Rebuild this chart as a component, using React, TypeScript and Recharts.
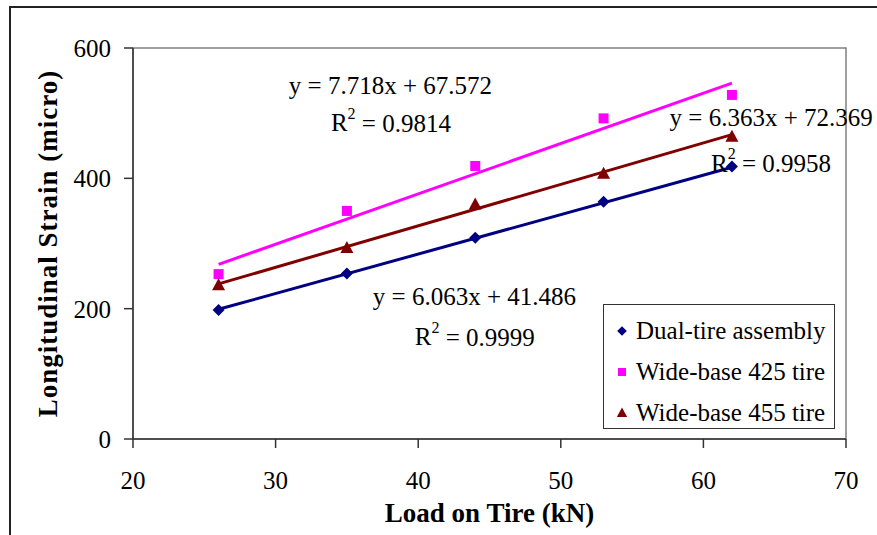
import React from "react";
import {
  ComposedChart,
  Scatter,
  XAxis,
  YAxis,
  Legend,
  ReferenceDot,
  ReferenceArea,
} from "recharts";

// measured loads (kN)
const loads = [26, 35, 44, 53, 62];

// longitudinal strain readings (micro)
const dualTire = [198, 254, 309, 364, 418];
const wide425 = [253, 350, 419, 492, 528];
const wide455 = [236, 293, 360, 407, 464];

// trendline end points at 26 and 62 kN
const trendLoads = [26, 62];
const dualTrend = [199, 417];
const wide425Trend = [268, 546];
const wide455Trend = [238, 467];

const xTicks = [20, 30, 40, 50, 60, 70];
const yTicks = [0, 200, 400, 600];

const FONT = "Liberation Serif";

const toPoints = (xs: number[], ys: number[]) => xs.map((x, i) => ({ x, y: ys[i] }));

type ShapeProps = { cx?: number; cy?: number; fill?: string };

const Diamond = ({ cx = 0, cy = 0, fill }: ShapeProps) => (
  <path d={`M${cx},${cy - 6}L${cx + 6},${cy}L${cx},${cy + 6}L${cx - 6},${cy}Z`} fill={fill} />
);
const Square = ({ cx = 0, cy = 0, fill }: ShapeProps) => (
  <rect x={cx - 5} y={cy - 5} width={10} height={10} fill={fill} />
);
const Triangle = ({ cx = 0, cy = 0, fill }: ShapeProps) => (
  <path d={`M${cx},${cy - 7}L${cx + 6.5},${cy + 5}L${cx - 6.5},${cy + 5}Z`} fill={fill} />
);

const series = [
  { name: "Dual-tire assembly", color: "#000080", values: dualTire, trend: dualTrend, Shape: Diamond },
  { name: "Wide-base 425 tire", color: "#FF00FF", values: wide425, trend: wide425Trend, Shape: Square },
  { name: "Wide-base 455 tire", color: "#800000", values: wide455, trend: wide455Trend, Shape: Triangle },
];

// trendline equations, anchored (left edge, middle) in data units
const annotations = [
  { x: 30.93, y: 543, text: "y = 7.718x + 67.572" },
  { x: 33.88, y: 485, r2: "0.9814" },
  { x: 57.63, y: 493, text: "y = 6.363x + 72.369" },
  { x: 60.53, y: 423, r2: "0.9958" },
  { x: 36.82, y: 218, text: "y = 6.063x + 41.486" },
  { x: 39.76, y: 157, r2: "0.9999" },
];

const renderAnnotation = (a: (typeof annotations)[number]) => (props: any) => {
  const vb = props.viewBox || {};
  const x = (vb.x ?? 0) + (vb.width ?? 0) / 2;
  const y = (vb.y ?? 0) + (vb.height ?? 0) / 2;
  return (
    <text x={x} y={y} dominantBaseline="central" style={{ fontFamily: FONT }} fontSize={25} fill="#000">
      {a.r2 ? (
        <>
          R<tspan dy={-10} fontSize={16}>2</tspan>
          <tspan dy={10}>{` = ${a.r2}`}</tspan>
        </>
      ) : (
        a.text
      )}
    </text>
  );
};

const LegendBox = () => (
  <div
    style={{
      width: 232,
      height: 125,
      boxSizing: "border-box",
      border: "1px solid #333",
      background: "#fff",
      fontFamily: FONT,
      fontSize: 25,
      color: "#000",
      paddingTop: 5,
    }}
  >
    {series.map(({ name, color, Shape }) => (
      <div key={name} style={{ display: "flex", alignItems: "center", height: 41, whiteSpace: "nowrap" }}>
        <svg width={32} height={20} style={{ flex: "none" }}>
          <g transform="translate(18,10) scale(0.8) translate(-18,-10)">
            <Shape cx={18} cy={10} fill={color} />
          </g>
        </svg>
        <span>{name}</span>
      </div>
    ))}
  </div>
);

export default function App() {
  return (
    <div
      style={{
        position: "absolute",
        left: 0,
        top: 0,
        width: 877,
        height: 535,
        overflow: "hidden",
        background: "#fff",
        fontFamily: FONT,
      }}
    >
      <div
        style={{
          position: "absolute",
          left: 9,
          top: 6,
          width: 900,
          height: 600,
          borderLeft: "2px solid #222",
          borderTop: "2px solid #222",
        }}
      />
      <div style={{ position: "absolute", left: 0, top: 0 }}>
        <ComposedChart
          width={877}
          height={535}
          margin={{ top: 48, right: 31, bottom: 0, left: 0 }}
          style={{ fontFamily: FONT }}
        >
          <XAxis
            type="number"
            dataKey="x"
            domain={[20, 70]}
            ticks={xTicks}
            allowDataOverflow
            height={96}
            tickSize={9}
            tickMargin={23}
            stroke="#333"
            strokeWidth={1.5}
            tick={{ fontSize: 25, fontFamily: FONT, fill: "#000" }}
            label={{
              content: (p: any) => {
                const vb = p.viewBox || {};
                return (
                  <text
                    x={vb.x + vb.width / 2}
                    y={vb.y + 83}
                    textAnchor="middle"
                    style={{ fontFamily: FONT }}
                    fontSize={27}
                    fontWeight="bold"
                    fill="#000"
                  >
                    Load on Tire (kN)
                  </text>
                );
              },
            }}
          />
          <YAxis
            type="number"
            dataKey="y"
            domain={[0, 600]}
            ticks={yTicks}
            width={133}
            tickSize={9}
            tickMargin={13}
            stroke="#333"
            strokeWidth={1.5}
            tick={{ fontSize: 25, fontFamily: FONT, fill: "#000" }}
            label={{
              content: (p: any) => {
                const vb = p.viewBox || {};
                const cx = 48;
                const cy = vb.y + vb.height / 2;
                return (
                  <text
                    x={cx}
                    y={cy}
                    transform={`rotate(-90 ${cx} ${cy})`}
                    textAnchor="middle"
                    dominantBaseline="central"
                    style={{ fontFamily: FONT }}
                    fontSize={27}
                    fontWeight="bold"
                    fill="#000"
                    letterSpacing={1}
                  >
                    Longitudinal Strain (micro)
                  </text>
                );
              },
            }}
          />
          <ReferenceArea x1={20} x2={70} y1={0} y2={600} fill="none" stroke="#808080" strokeWidth={1.5} />
          {series.map((s) => (
            <Scatter
              key={`${s.name}-trend`}
              data={toPoints(trendLoads, s.trend)}
              line={{ stroke: s.color, strokeWidth: 3 }}
              shape={() => <g />}
              legendType="none"
              isAnimationActive={false}
            />
          ))}
          {series.map((s) => (
            <Scatter
              key={s.name}
              name={s.name}
              data={toPoints(loads, s.values)}
              fill={s.color}
              shape={(p: any) => <s.Shape cx={p.cx} cy={p.cy} fill={s.color} />}
              isAnimationActive={false}
            />
          ))}
          {annotations.map((a, i) => (
            <ReferenceDot
              key={i}
              x={a.x}
              y={a.y}
              r={1}
              fill="none"
              stroke="none"
              ifOverflow="visible"
              label={{ content: renderAnnotation(a) }}
            />
          ))}
          <Legend
            layout="vertical"
            align="center"
            verticalAlign="middle"
            content={() => <LegendBox />}
            wrapperStyle={{ left: 603, top: 304, width: 232, height: 125 }}
          />
        </ComposedChart>
      </div>
    </div>
  );
}
